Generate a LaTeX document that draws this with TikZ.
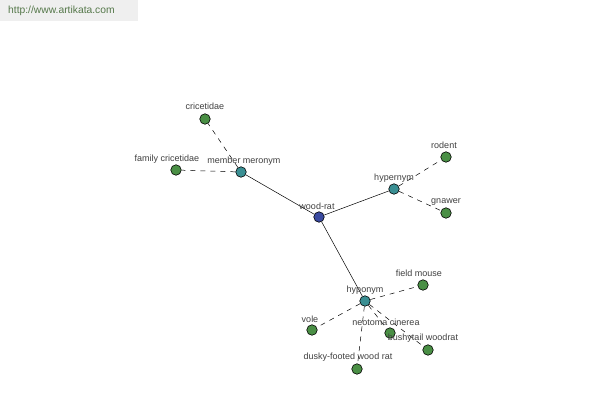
\documentclass[tikz,border=0pt]{standalone}
\usepackage{fontspec}
\setmainfont{Liberation Sans}
\definecolor{rootc}{HTML}{3A4AA0}
\definecolor{relc}{HTML}{3A8F93}
\definecolor{leafc}{HTML}{4A8F45}
\definecolor{labc}{HTML}{404040}
\definecolor{bannerc}{HTML}{EFEFEF}
\definecolor{urlc}{HTML}{55784A}
\begin{document}
\begin{tikzpicture}[x=1pt,y=-1pt,
  dot/.style={circle,draw=black,line width=0.6pt,minimum size=10.5pt,inner sep=0pt},
  root/.style={dot,fill=rootc},
  rel/.style={dot,fill=relc},
  leaf/.style={dot,fill=leafc},
  lab/.style={text=labc,font=\fontsize{9}{10}\selectfont,inner sep=0pt},
  solidedge/.style={draw=black,line width=0.5pt},
  dashedge/.style={draw=black,line width=0.5pt,dash pattern=on 5pt off 5pt}]
\useasboundingbox (0,0) rectangle (600,400);
\fill[white] (0,0) rectangle (600,400);
\fill[bannerc] (0,0) rectangle (138,21);
\node[anchor=west,text=urlc,font=\fontsize{10.3}{11}\selectfont,inner sep=0pt] (url) at (8,11) {http://www.artikata.com};

% nodes
\node[root] (wr) at (319,217) {};
\node[rel] (mm) at (241,172) {};
\node[rel] (hyper) at (394,189) {};
\node[rel] (hypo) at (365,301) {};
\node[leaf] (cric) at (205,119) {};
\node[leaf] (fcric) at (176,170) {};
\node[leaf] (rodent) at (446,157) {};
\node[leaf] (gnawer) at (446,213) {};
\node[leaf] (fmouse) at (423,285) {};
\node[leaf] (vole) at (312,330) {};
\node[leaf] (neot) at (390,333) {};
\node[leaf] (bush) at (428,350) {};
\node[leaf] (dusky) at (357,369) {};

% edges
\draw[solidedge] (wr) -- (mm);
\draw[solidedge] (wr) -- (hyper);
\draw[solidedge] (wr) -- (hypo);
\draw[dashedge] (mm) -- (cric);
\draw[dashedge] (mm) -- (fcric);
\draw[dashedge] (hyper) -- (rodent);
\draw[dashedge] (hyper) -- (gnawer);
\draw[dashedge] (hypo) -- (fmouse);
\draw[dashedge] (hypo) -- (vole);
\draw[dashedge] (hypo) -- (neot);
\draw[dashedge] (hypo) -- (bush);
\draw[dashedge] (hypo) -- (dusky);

% labels
\node[lab] (lwr) at (317,206) {wood-rat};
\node[lab] (lmm) at (244,161) {member meronym};
\node[lab] (lhyper) at (394,178) {hypernym};
\node[lab] (lhypo) at (365,290) {hyponym};
\node[lab] (lcric) at (205,106) {cricetidae};
\node[lab] (lfcric) at (167,159) {family cricetidae};
\node[lab] (lrodent) at (444,145) {rodent};
\node[lab] (lgnawer) at (446,202) {gnawer};
\node[lab] (lfmouse) at (419,273) {field mouse};
\node[lab] (lvole) at (310,319) {vole};
\node[lab] (lneot) at (386,322) {neotoma cinerea};
\node[lab] (lbush) at (423,338) {bushytail woodrat};
\node[lab] (ldusky) at (348,357) {dusky-footed wood rat};
\end{tikzpicture}
\end{document}
